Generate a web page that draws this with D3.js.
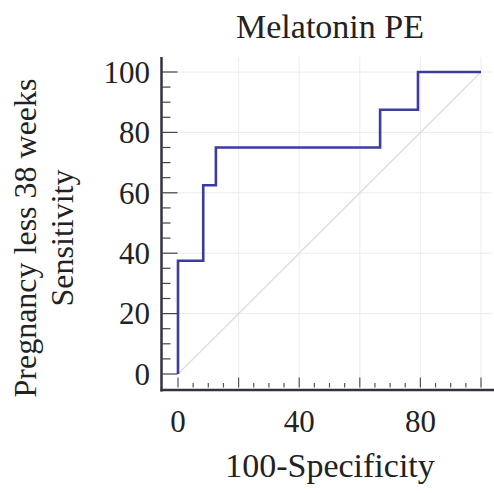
<!DOCTYPE html>
<html><head><meta charset="utf-8">
<script src="https://cdn.jsdelivr.net/npm/d3@7"></script>
<style>
html,body{margin:0;padding:0;background:#fff;}
svg text{font-family:"Liberation Serif","Times New Roman",serif;fill:#222;}
</style></head>
<body>
<svg id="chart" width="494" height="493"></svg>
<script>
// ROC curve data (100-Specificity, Sensitivity)
const fpr = [0, 0, 8.33, 8.33, 12.5, 12.5, 66.7, 66.7, 79.2, 79.2, 100];
const tpr = [0, 37.5, 37.5, 62.5, 62.5, 75, 75, 87.5, 87.5, 100, 100];
const xTickLabels = [0, 40, 80];
const yTickLabels = [0, 20, 40, 60, 80, 100];
const gridValues = [20, 40, 60, 80, 100];
const title = "Melatonin PE";
const xTitle = "100-Specificity";
const yTitleLines = ["Pregnancy less 38 weeks", "Sensitivity"];

const svg = d3.select("#chart");
const x = d3.scaleLinear().domain([0, 100]).range([178, 481]);
const y = d3.scaleLinear().domain([0, 100]).range([374, 72]);
const axisX0 = 161.5, axisY0 = 390, plotRight = 492, plotTop = 57;

// grid
svg.append("g").selectAll("line.gv").data(gridValues).join("line")
  .attr("x1", d => x(d)).attr("x2", d => x(d)).attr("y1", plotTop).attr("y2", axisY0)
  .attr("stroke", "#ececec").attr("stroke-width", 1);
svg.append("g").selectAll("line.gh").data(gridValues).join("line")
  .attr("x1", axisX0).attr("x2", plotRight).attr("y1", d => y(d)).attr("y2", d => y(d))
  .attr("stroke", "#ececec").attr("stroke-width", 1);

// diagonal reference
svg.append("line").attr("x1", x(0)).attr("y1", y(0)).attr("x2", x(100)).attr("y2", y(100))
  .attr("stroke", "#dcdcdc").attr("stroke-width", 1.2);

// axes lines
svg.append("line").attr("x1", axisX0).attr("x2", axisX0).attr("y1", plotTop).attr("y2", axisY0 + 1.5)
  .attr("stroke", "#333340").attr("stroke-width", 2.5);
svg.append("line").attr("x1", axisX0 - 1).attr("x2", plotRight + 2).attr("y1", axisY0).attr("y2", axisY0)
  .attr("stroke", "#333340").attr("stroke-width", 2.5);

// y ticks (inside, to the right of axis)
const yMinor = d3.range(0, 101, 5);
svg.append("g").selectAll("line").data(yMinor).join("line")
  .attr("x1", axisX0).attr("x2", d => axisX0 + (d % 20 === 0 ? 16 : 9))
  .attr("y1", d => y(d)).attr("y2", d => y(d))
  .attr("stroke", "#444").attr("stroke-width", 1.2);
// x ticks (upward from axis)
const xMinor = d3.range(0, 101, 5);
svg.append("g").selectAll("line").data(xMinor).join("line")
  .attr("x1", d => x(d)).attr("x2", d => x(d))
  .attr("y1", axisY0 - 2.5).attr("y2", d => axisY0 - 2.5 - (d % 20 === 0 ? 10 : 4.5))
  .attr("stroke", "#555").attr("stroke-width", 1.2);

// tick labels
svg.append("g").selectAll("text").data(yTickLabels).join("text")
  .attr("x", 150).attr("y", d => y(d)).attr("dy", "0.35em")
  .attr("text-anchor", "end").style("font-size", "31px").text(d => d);
svg.append("g").selectAll("text").data(xTickLabels).join("text")
  .attr("x", d => x(d)).attr("y", 432)
  .attr("text-anchor", "middle").style("font-size", "31px").text(d => d);

// ROC line
const line = d3.line().x(d => x(d[0])).y(d => y(d[1]));
svg.append("path").datum(fpr.map((v, i) => [v, tpr[i]]))
  .attr("d", line).attr("fill", "none")
  .attr("stroke", "#3c3c9e").attr("stroke-width", 2.6);

// titles
svg.append("text").attr("x", 330).attr("y", 38).attr("text-anchor", "middle")
  .style("font-size", "34px").text(title);
svg.append("text").attr("x", 330).attr("y", 477).attr("text-anchor", "middle")
  .style("font-size", "34px").text(xTitle);
const yt = svg.append("text").attr("transform", "translate(36,238) rotate(-90)")
  .attr("text-anchor", "middle").style("font-size", "32px");
yTitleLines.forEach((t, i) => {
  yt.append("tspan").attr("x", 0).attr("y", i === 0 ? 0 : 37).text(t);
});
</script>
</body></html>
